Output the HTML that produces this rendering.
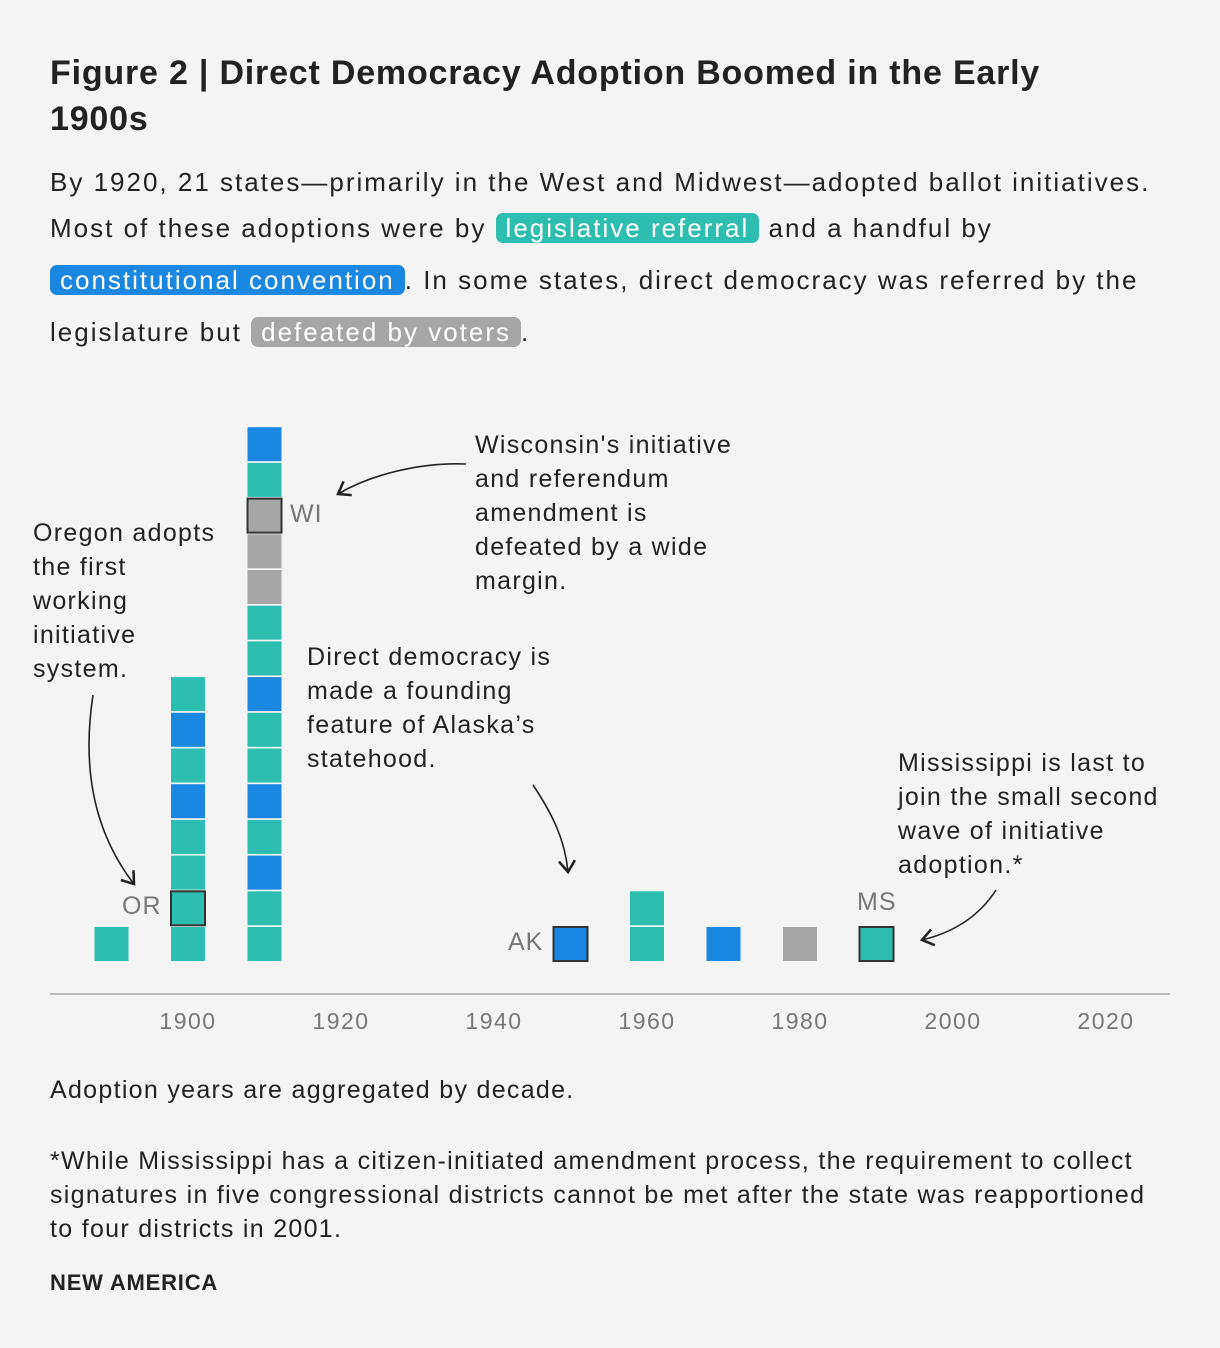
<!DOCTYPE html>
<html><head><meta charset="utf-8">
<style>
body{margin:0;background:#f4f4f4;font-family:"Liberation Sans",sans-serif;color:#222;}
#root{position:relative;width:1220px;height:1348px;overflow:hidden;}
.t{position:absolute;white-space:nowrap;}
h1{position:absolute;left:50px;top:50px;margin:0;font-size:34px;line-height:46px;font-weight:bold;color:#222;width:1080px;letter-spacing:0.8px;}
.intro{position:absolute;left:50px;top:162px;font-size:26px;line-height:52px;width:1160px;letter-spacing:2px;}
.intro .l1{line-height:40px;display:block;}
.chip{color:#fff;border-radius:7px;padding:0 10px;}
.ann{position:absolute;font-size:25px;line-height:34px;color:#222;letter-spacing:1.3px;}
.tick{position:absolute;top:1008px;font-size:23px;color:#777;width:90px;text-align:center;letter-spacing:1.5px;}
.lab{position:absolute;font-size:25px;color:#777;letter-spacing:1px;}
</style></head><body>
<div id="root">
<h1>Figure 2 | Direct Democracy Adoption Boomed in the Early 1900s</h1>
<div class="intro"><span class="l1">By 1920, 21 states—primarily in the West and Midwest—adopted ballot initiatives.</span>Most of these adoptions were by <span class="chip" style="background:#2dbdb1">legislative referral</span> and a handful by<br><span class="chip" style="background:#1a87e0">constitutional convention</span>. In some states, direct democracy was referred by the<br>legislature but <span class="chip" style="background:#a6a6a6">defeated by voters</span>.</div>

<svg id="chart" width="1220" height="1348" style="position:absolute;left:0;top:0">
<defs><marker id="ah" markerWidth="12" markerHeight="12" refX="8" refY="6" orient="auto"><path d="M1,1 L8,6 L1,11" fill="none" stroke="#222" stroke-width="1.6"/></marker></defs>
<line x1="50" y1="994" x2="1170" y2="994" stroke="#bbb" stroke-width="2"/>
<g id="marks"></g>
<path d="M93,695 C80,780 100,840 134,884" fill="none" stroke="#222" stroke-width="1.6" marker-end="url(#ah)"/>
<path d="M466,464 C420,462 370,475 338,494" fill="none" stroke="#222" stroke-width="1.6" marker-end="url(#ah)"/>
<path d="M533,785 C553,815 565,840 568,872" fill="none" stroke="#222" stroke-width="1.6" marker-end="url(#ah)"/>
<path d="M996,890 C980,915 955,932 922,940" fill="none" stroke="#222" stroke-width="1.6" marker-end="url(#ah)"/>
</svg>

<div class="ann" style="left:33px;top:516px">Oregon adopts<br>the first<br>working<br>initiative<br>system.</div>
<div class="ann" style="left:475px;top:428px">Wisconsin's initiative<br>and referendum<br>amendment is<br>defeated by a wide<br>margin.</div>
<div class="ann" style="left:307px;top:640px">Direct democracy is<br>made a founding<br>feature of Alaska’s<br>statehood.</div>
<div class="ann" style="left:898px;top:746px">Mississippi is last to<br>join the small second<br>wave of initiative<br>adoption.*</div>
<div class="lab" style="left:122px;top:892px">OR</div>
<div class="lab" style="left:290px;top:500px">WI</div>
<div class="lab" style="left:508px;top:928px">AK</div>
<div class="lab" style="left:857px;top:888px">MS</div>
<div id="ticks"></div>

<div class="t" style="left:50px;top:1076px;font-size:25px;letter-spacing:1.3px">Adoption years are aggregated by decade.</div>
<div class="t" style="left:50px;top:1144px;font-size:25px;line-height:34px;white-space:normal;width:1122px;letter-spacing:1.3px">*While Mississippi has a citizen-initiated amendment process, the requirement to collect signatures in five congressional districts cannot be met after the state was reapportioned to four districts in 2001.</div>
<div class="t" style="left:50px;top:1270px;font-size:22px;font-weight:bold;letter-spacing:0.8px">NEW AMERICA</div>
</div>
<script>
const decades=[1890,1900,1910,1950,1960,1970,1980,1990];
// stacks from bottom: L=legislative referral, C=constitutional convention, D=defeated
const stacks=[["L"],["L","L","L","L","C","L","C","L"],["L","L","C","L","C","L","L","C","L","L","D","D","D","L","C"],["C"],["L","L"],["C"],["D"],["L"]];
const highlights=[[1900,1],[1910,12],[1950,0],[1990,0]];
const tickYears=[1900,1920,1940,1960,1980,2000,2020];
const colors={L:"#2dbdb1",C:"#1a87e0",D:"#a6a6a6"};
const x=y=>188+(y-1900)*7.65;
const size=34,pitch=35.7,base=961;
const g=document.getElementById('marks');
decades.forEach((d,i)=>{
  stacks[i].forEach((t,j)=>{
    const r=document.createElementNS('http://www.w3.org/2000/svg','rect');
    
    
    r.setAttribute('x',x(d)-size/2);
    r.setAttribute('y',base-size-j*pitch);
    r.setAttribute('width',size);r.setAttribute('height',size);
    r.setAttribute('fill',colors[t]);
    if(highlights.some(h=>h[0]===d&&h[1]===j)){r.setAttribute('stroke','#333');r.setAttribute('stroke-width','2');}
    g.appendChild(r);
  });
});
const tk=document.getElementById('ticks');
tickYears.forEach(y=>{
  const el=document.createElement('div');
  
  
  el.className='tick';el.style.left=(x(y)-45)+'px';el.textContent=y;tk.appendChild(el);
});
</script>
</body></html>
